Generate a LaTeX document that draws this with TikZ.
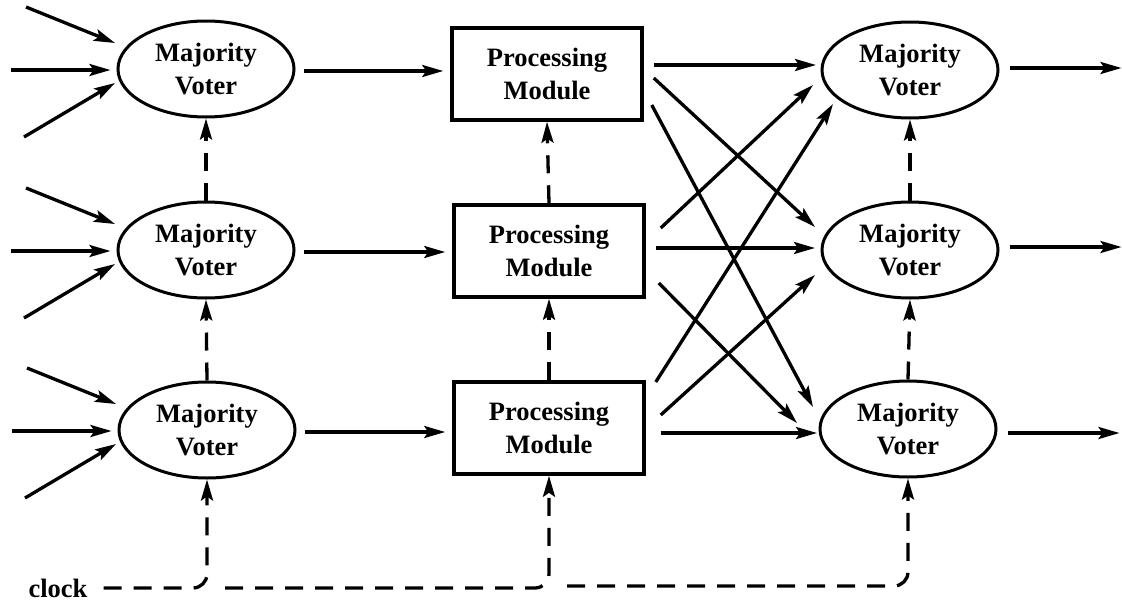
\documentclass[tikz,border=0pt]{standalone}
\usepackage{fontspec}
\setmainfont{Liberation Serif}
\usetikzlibrary{shapes.geometric,arrows.meta,calc}
\begin{document}
\begin{tikzpicture}[x=1pt,y=-1pt,
  every node/.style={font=\bfseries\fontsize{26.5}{33}\selectfont, align=center, inner sep=0pt},
  voter/.style={ellipse, draw, line width=3pt, minimum width=176pt, minimum height=96pt},
  module/.style={rectangle, draw, line width=3.5pt, minimum width=190pt, minimum height=92pt},
  arr/.style={line width=3.3pt, -{Stealth[length=21pt,width=12pt,inset=4pt]}},
  darr/.style={arr, dash pattern=on 18pt off 12pt},
]
\useasboundingbox (0,0) rectangle (1122,605);

% nodes
\node[voter] (lv1) at (206,69) {Majority\\Voter};
\node[voter] (lv2) at (206,250) {Majority\\Voter};
\node[voter] (lv3) at (207,430) {Majority\\Voter};
\node[module] (pm1) at (547,74) {Processing\\Module};
\node[module] (pm2) at (549,251) {Processing\\Module};
\node[module] (pm3) at (549,428) {Processing\\Module};
\node[voter] (rv1) at (910,70) {Majority\\Voter};
\node[voter] (rv2) at (910,250) {Majority\\Voter};
\node[voter] (rv3) at (908,429) {Majority\\Voter};
\node (clk) at (58,588) {clock};

% inputs to left voters
\foreach \i in {1,2,3}{
  \coordinate (ina\i) at ($(lv\i.center)+(-180,-62)$);
  \coordinate (inb\i) at ($(lv\i.center)+(-195,1)$);
  \coordinate (inc\i) at ($(lv\i.center)+(-182,68)$);
  \draw[arr] (ina\i) -- ($(lv\i.center)+(-91,-26)$);
  \draw[arr] (inb\i) -- ($(lv\i.west)+(-6,1)$);
  \draw[arr] (inc\i) -- ($(lv\i.center)+(-91,14)$);
  % voter -> module
  \draw[arr] ($(lv\i.east)+(8,2)$) -- ($(lv\i.east -| pm\i.west)+(-7,2)$);
  % outputs
  \coordinate (out\i) at ($(rv\i.east)+(122,0)$);
}
\draw[arr] ($(rv1.east)+(10,-2)$) -- (out1 |- {$(rv1.east)+(0,-2)$});
\draw[arr] ($(rv2.east)+(10,-3)$) -- (out2 |- {$(rv2.east)+(0,-3)$});
\draw[arr] ($(rv3.east)+(10,4)$) -- (out3 |- {$(rv3.east)+(0,4)$});

% crossing connections
\draw[arr] ($(pm1.east)+(10,-9)$) -- ($(rv1.center)+(-94,-5)$);
\draw[arr] ($(pm1.east)+(10,4)$) -- ($(rv2.center)+(-95,-23)$);
\draw[arr] ($(pm1.east)+(8,31)$) -- ($(rv3.center)+(-95,-22)$);
\draw[arr] ($(pm2.east)+(15,-23)$) -- ($(rv1.center)+(-97,15)$);
\draw[arr] ($(pm2.east)+(10,-3)$) -- ($(rv2.center)+(-95,-2)$);
\draw[arr] ($(pm2.east)+(13,32)$) -- ($(rv3.center)+(-111,-6)$);
\draw[arr] ($(pm3.east)+(10,-46)$) -- ($(rv1.center)+(-77,34)$);
\draw[arr] ($(pm3.east)+(15,-13)$) -- ($(rv2.center)+(-95,25)$);
\draw[arr] ($(pm3.east)+(15,5)$) -- ($(rv3.center)+(-91,4)$);

% dashed synchronisation arrows
\draw[darr] (lv2.north) -- (lv1.south);
\draw[darr] (lv3.north) -- (lv2.south);
\draw[darr] (pm2.north) -- (pm1.south);
\draw[darr] (pm3.north) -- (pm2.south);
\draw[darr] (rv2.north) -- (rv1.south);
\draw[darr] (rv3.north) -- (rv2.south);

% clock bus
\draw[darr, rounded corners=14pt] ($(clk.east)+(16,0)$) -| (lv3.south);
\draw[darr, rounded corners=14pt] ($(lv3.south |- clk.east)+(18,0)$) -| (pm3.south);
\draw[darr, rounded corners=14pt] ($(pm3.south |- clk.east)+(18,-2)$) -| (rv3.south);
\end{tikzpicture}
\end{document}
